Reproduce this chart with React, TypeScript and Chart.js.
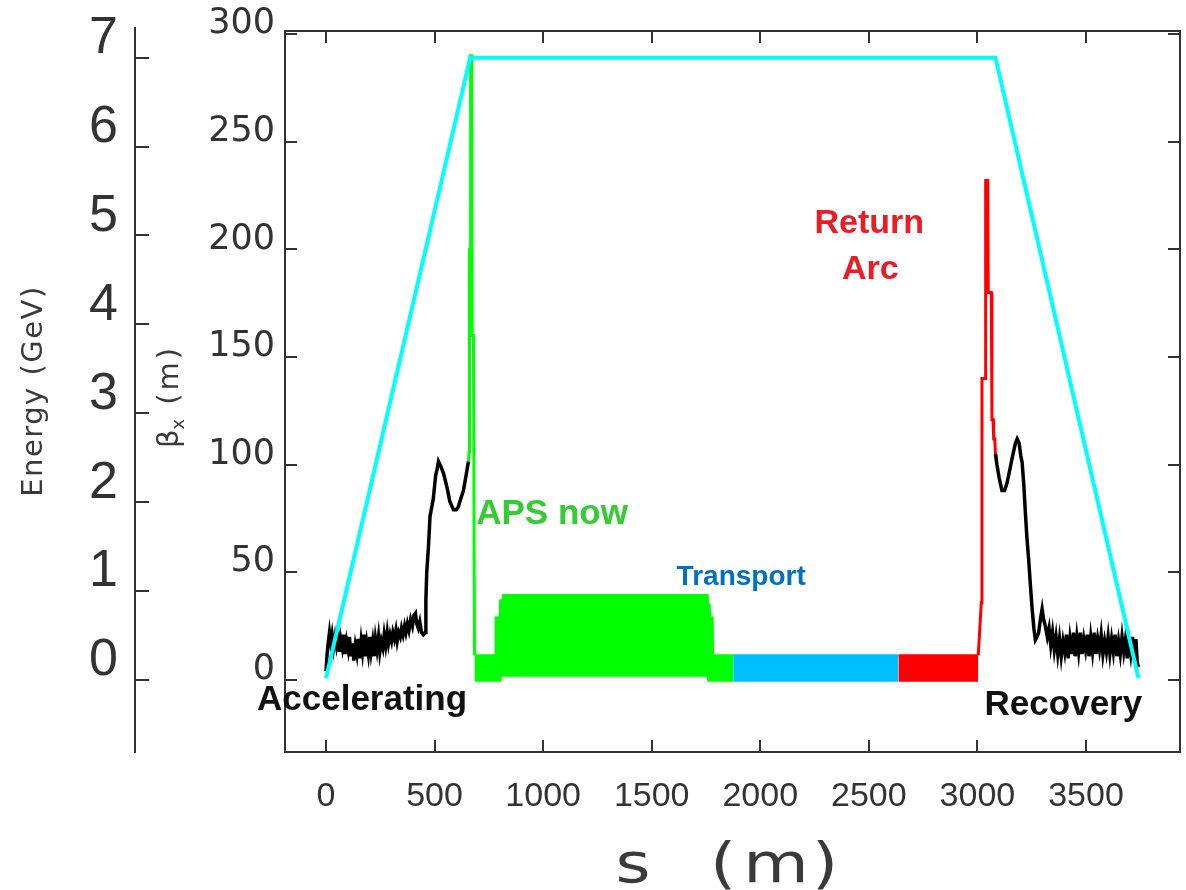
import React, { useEffect, useRef } from 'react';
import { Chart, registerables } from 'chart.js';

Chart.register(...registerables);

// ---------- data (s in m, beta in m, energy in GeV) ----------
const energyS = [0, 664, 3083, 3742];
const energyGeV = [0.02, 7.0, 7.0, 0.02];

const accelS = [0, 5, 10, 16, 22, 28, 35, 42, 48, 55, 62, 68, 75, 82, 88, 95, 102, 108, 115, 122, 128, 135, 142, 148, 155, 162, 168, 175, 182, 188, 195, 202, 208, 215, 222, 228, 235, 242, 248, 255, 262, 268, 275, 282, 288, 295, 302, 308, 315, 322, 328, 335, 342, 348, 355, 362, 368, 375, 382, 390, 398, 405, 412, 418, 425, 432, 440, 448, 456, 460, 464, 472, 479, 494, 505, 512, 518, 530, 541, 556, 570, 587, 600, 610, 620, 633, 645, 656];
const accelBeta = [4, 12, 17, 22, 17, 21, 15, 20, 16, 21, 13, 19, 15, 21, 12, 18, 14, 20, 11, 17, 9, 16, 12, 19, 10, 18, 13, 21, 11, 17, 12, 20, 13, 18, 11, 19, 14, 20, 13, 18, 15, 21, 16, 22, 17, 21, 18, 22, 19, 23, 18, 22, 20, 24, 21, 25, 22, 26, 23, 28, 25, 30, 31, 26, 24, 27, 22, 21, 22, 37, 50, 62, 76, 84, 95, 98, 101.5, 99, 96, 90, 83, 79, 79, 80.6, 84, 88, 95, 101.5];

const apsSpikeS = [656, 659, 661, 664, 666, 671, 673, 679, 684];
const apsSpikeBeta = [101.5, 106, 200, 200, 290, 290, 160, 160, 11.5];

const apsUpperS = [684, 779, 781, 800, 802, 814, 816, 1758, 1760, 1767, 1769, 1781, 1783, 1875];
const apsUpperBeta = [11.5, 11.5, 29, 29, 37, 37, 39.5, 39.5, 35, 35, 29, 29, 11.5, 11.5];
const apsLowerS = [684, 808, 810, 1754, 1756, 1875];
const apsLowerBeta = [-0.9, -0.9, 1.5, 1.5, -0.9, -0.9];

const transportS = [1875, 2636];
const transportBeta = [11.5, 11.5];

const arcBandS = [2636, 3004];
const arcBandBeta = [11.5, 11.5];
const arcSpikeS = [3004, 3010, 3018, 3021, 3036, 3038, 3048, 3050, 3064, 3067, 3072, 3075, 3080, 3083, 3090];
const arcSpikeBeta = [11.5, 22, 36, 140, 140, 232, 232, 180, 180, 121, 121, 112, 112, 105, 102];

const recovS = [3083, 3090, 3100, 3113, 3125, 3135, 3144, 3160, 3175, 3183, 3192, 3200, 3206, 3214, 3221, 3228, 3236, 3244, 3252, 3260, 3267, 3275, 3282, 3290, 3298, 3305, 3313, 3322, 3330, 3338, 3346, 3354, 3362, 3370, 3378, 3386, 3394, 3402, 3410, 3418, 3426, 3434, 3442, 3450, 3458, 3466, 3474, 3482, 3490, 3498, 3506, 3514, 3522, 3530, 3538, 3546, 3554, 3562, 3570, 3578, 3586, 3594, 3602, 3610, 3618, 3626, 3634, 3642, 3650, 3658, 3666, 3674, 3682, 3690, 3698, 3706, 3714, 3722, 3730, 3736, 3742];
const recovBeta = [105, 100, 94, 88, 88, 91, 95, 103, 110, 112, 110, 104, 101, 90, 77.5, 66, 56, 44, 33, 24, 18.6, 20, 22, 28, 33, 28, 25, 20, 24, 16, 22, 14, 20, 12, 19, 11, 18, 13, 21, 10, 19, 12, 22, 11, 20, 13, 22, 12, 19, 14, 21, 11, 20, 13, 22, 12, 19, 14, 21, 12, 18, 13, 20, 12, 19, 13, 21, 11, 18, 12, 20, 13, 19, 10, 18, 12, 20, 9, 19, 8, 6];

// tick values
const xTicks = [0, 500, 1000, 1500, 2000, 2500, 3000, 3500];
const betaTicks = [0, 50, 100, 150, 200, 250, 300];
const energyTicks = [0, 1, 2, 3, 4, 5, 6, 7];

// annotations (data coordinates on s / beta axes)
const labels = [
  { text: 'Accelerating', s: 166, beta: -9.3, color: '#111111', size: 35 },
  { text: 'Recovery', s: 3396, beta: -12, color: '#111111', size: 35 },
  { text: 'APS now', s: 1041, beta: 76.7, color: '#33cc33', size: 35 },
  { text: 'Transport', s: 1912, beta: 47.9, color: '#0070c0', size: 28 },
  { text: 'Return', s: 2502, beta: 212, color: '#ed1c24', size: 34 },
  { text: 'Arc', s: 2507, beta: 190.5, color: '#ed1c24', size: 34 },
];

const pts = (xs: number[], ys: number[]) => xs.map((x, i) => ({ x, y: ys[i] }));
const setTicks = (vals: number[]) => (s: any) => { s.ticks = vals.map((v) => ({ value: v })); };
const noPad = (w: number | null, h: number | null) => (s: any) => {
  if (w !== null) s.width = w;
  if (h !== null) s.height = h;
  s.paddingTop = 0;
  s.paddingBottom = 0;
  s.paddingLeft = 0;
  s.paddingRight = 0;
};
const plain = (v: any) => String(v);

const framePlugin = {
  id: 'frameAndText',
  afterDraw(chart: any) {
    const { ctx, chartArea: a, scales } = chart;
    const xs = scales.x;
    const yB = scales.yB;
    const yE = scales.yE;
    ctx.save();
    ctx.strokeStyle = '#333333';
    ctx.lineWidth = 2;
    ctx.strokeRect(a.left, a.top, a.right - a.left, a.bottom - a.top);
    ctx.beginPath();
    xs.ticks.forEach((t: any) => {
      const px = Math.round(xs.getPixelForValue(t.value));
      ctx.moveTo(px, a.bottom);
      ctx.lineTo(px, a.bottom - 12);
      ctx.moveTo(px, a.top);
      ctx.lineTo(px, a.top + 12);
    });
    yB.ticks.forEach((t: any) => {
      const py = Math.round(yB.getPixelForValue(t.value));
      ctx.moveTo(a.left, py);
      ctx.lineTo(a.left + 12, py);
      ctx.moveTo(a.right, py);
      ctx.lineTo(a.right - 12, py);
    });
    const ex = Math.round(yE.right);
    ctx.moveTo(ex, a.top - 4);
    ctx.lineTo(ex, a.bottom + 1);
    yE.ticks.forEach((t: any) => {
      const py = Math.round(yE.getPixelForValue(t.value));
      ctx.moveTo(ex, py);
      ctx.lineTo(ex + 14, py);
    });
    ctx.stroke();

    // axis titles
    ctx.fillStyle = '#3a3a3a';
    ctx.textAlign = 'center';
    ctx.textBaseline = 'middle';
    // Energy (GeV)
    ctx.save();
    ctx.translate(34, 391);
    ctx.rotate(-Math.PI / 2);
    (ctx as any).letterSpacing = '1.5px';
    ctx.font = '29px "DejaVu Sans"';
    ctx.fillText('Energy (GeV)', 0, 0);
    ctx.restore();
    // beta_x (m)
    ctx.save();
    ctx.translate(170, 392);
    ctx.rotate(-Math.PI / 2);
    ctx.font = '29px "DejaVu Sans"';
    ctx.textAlign = 'left';
    const full = 112;
    let cx = -full / 2;
    ctx.fillText('\u03b2', cx, 0);
    cx += ctx.measureText('\u03b2').width;
    ctx.font = '18px "DejaVu Sans"';
    ctx.fillText('x', cx, 9);
    cx += ctx.measureText('x').width + 14;
    ctx.font = '29px "DejaVu Sans"';
    (ctx as any).letterSpacing = '3px';
    ctx.fillText('(m)', cx, 0);
    ctx.restore();
    // s (m)
    ctx.save();
    ctx.font = '56px "DejaVu Sans"';
    ctx.textBaseline = 'alphabetic';
    const glyphs: [string, number][] = [['s', 633], ['(', 723], ['m', 776], [')', 825]];
    glyphs.forEach(([g, gx]) => {
      ctx.save();
      ctx.translate(gx, 882);
      ctx.scale(1.2, 1);
      ctx.fillText(g, 0, 0);
      ctx.restore();
    });
    ctx.restore();

    // annotations
    labels.forEach((l) => {
      ctx.font = `bold ${l.size}px "Liberation Sans", Arial, sans-serif`;
      ctx.fillStyle = l.color;
      ctx.textAlign = 'center';
      ctx.textBaseline = 'middle';
      ctx.fillText(l.text, xs.getPixelForValue(l.s), yB.getPixelForValue(l.beta));
    });
    ctx.restore();
  },
};

export default function App() {
  const ref = useRef<HTMLCanvasElement | null>(null);
  useEffect(() => {
    if (!ref.current) return;
    const line = (data: any, color: string, width: number, extra: any = {}) => ({
      data,
      borderColor: color,
      backgroundColor: color,
      borderWidth: width,
      pointRadius: 0,
      tension: 0,
      fill: false,
      yAxisID: 'yB',
      ...extra,
    });
    const chart = new Chart(ref.current, {
      type: 'line',
      data: {
        datasets: [
          line(pts(energyS, energyGeV), '#00ffff', 4, { yAxisID: 'yE' }),
          line(pts(accelS, accelBeta), '#000000', 3.5),
          line(pts(recovS, recovBeta), '#000000', 3.5),
          line(pts(apsSpikeS, apsSpikeBeta), '#00ff00', 3),
          line(pts(arcSpikeS, arcSpikeBeta), '#ff0000', 3),
          line(pts(apsUpperS, apsUpperBeta), '#00ff00', 2, { fill: '+1' }),
          line(pts(apsLowerS, apsLowerBeta), '#00ff00', 0),
          line(pts(transportS, transportBeta), '#00bfff', 2, { fill: { target: { value: -0.9 } } }),
          line(pts(arcBandS, arcBandBeta), '#ff0000', 2, { fill: { target: { value: -0.9 } } }),
        ],
      },
      options: {
        responsive: false,
        animation: false,
        devicePixelRatio: 1,
        layout: { padding: { top: 31, right: 6, left: 0, bottom: 0 } },
        plugins: { legend: { display: false }, tooltip: { enabled: false }, title: { display: false } },
        scales: {
          x: {
            type: 'linear',
            min: -188.8,
            max: 3933,
            grid: { display: false, drawTicks: false },
            border: { display: false },
            afterBuildTicks: setTicks(xTicks),
            ticks: {
              padding: 24,
              color: '#333333',
              font: { family: '"Liberation Sans Narrow", "Liberation Sans"', size: 34 },
              maxRotation: 0,
              autoSkip: false,
              callback: plain,
            },
            afterFit: noPad(null, 138),
          },
          yB: {
            type: 'linear',
            position: 'left',
            weight: 0,
            min: -33.5,
            max: 301.5,
            grid: { display: false, drawTicks: false },
            border: { display: false },
            afterBuildTicks: setTicks(betaTicks),
            ticks: {
              padding: 10,
              labelOffset: -10,
              color: '#333333',
              font: { family: '"DejaVu Sans"', size: 35 },
              callback: plain,
            },
            afterFit: noPad(150, null),
          },
          yE: {
            type: 'linear',
            position: 'left',
            weight: 1,
            min: -0.81,
            max: 7.3,
            grid: { display: false, drawTicks: false },
            border: { display: false },
            afterBuildTicks: setTicks(energyTicks),
            ticks: {
              padding: 17,
              labelOffset: -19,
              color: '#333333',
              font: { family: '"Liberation Sans"', size: 52 },
              callback: plain,
            },
            afterFit: noPad(135, null),
          },
        },
      } as any,
      plugins: [framePlugin],
    });
    return () => chart.destroy();
  }, []);
  return (
    <div style={{ position: 'absolute', left: 0, top: 0, width: 1186, height: 890, background: '#ffffff' }}>
      <canvas ref={ref} width={1186} height={890} style={{ display: 'block', width: 1186, height: 890 }} />
    </div>
  );
}
